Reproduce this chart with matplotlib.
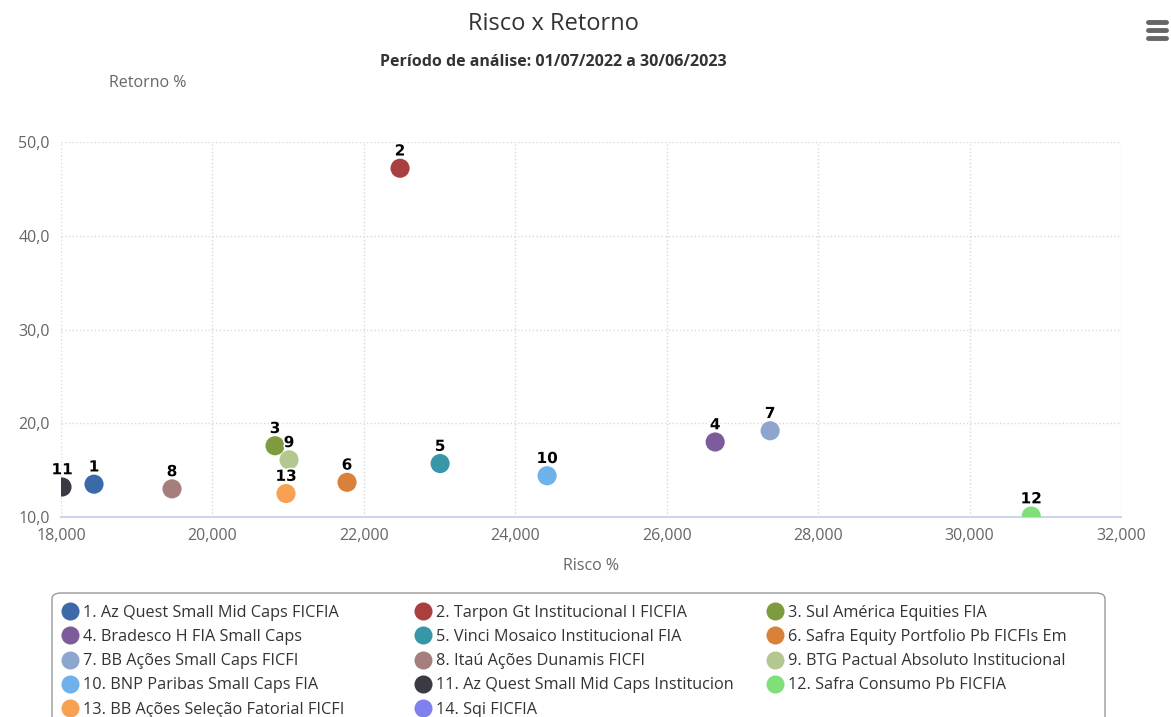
import matplotlib.pyplot as plt
from matplotlib.lines import Line2D
from matplotlib.patches import FancyBboxPatch
import matplotlib.patheffects as pe
from matplotlib.ticker import FuncFormatter, MultipleLocator

# Fund data: risk (x) and return (y)
labels = ['1', '2', '3', '4', '5', '6', '7', '8', '9', '10', '11', '12', '13']
risco = [18436, 22478, 20827, 26640, 23007, 21778, 27366, 19466, 21012, 24420, 18013, 30814, 20972]
retorno = [13.5, 47.2, 17.6, 18.0, 15.7, 13.7, 19.2, 13.0, 16.1, 14.4, 13.2, 10.1, 12.5]

fund_names = [
    '1. Az Quest Small Mid Caps FICFIA',
    '2. Tarpon Gt Institucional I FICFIA',
    '3. Sul América Equities FIA',
    '4. Bradesco H FIA Small Caps',
    '5. Vinci Mosaico Institucional FIA',
    '6. Safra Equity Portfolio Pb FICFIs Em',
    '7. BB Ações Small Caps FICFI',
    '8. Itaú Ações Dunamis FICFI',
    '9. BTG Pactual Absoluto Institucional',
    '10. BNP Paribas Small Caps FIA',
    '11. Az Quest Small Mid Caps Institucion',
    '12. Safra Consumo Pb FICFIA',
    '13. BB Ações Seleção Fatorial FICFI',
    '14. Sqi FICFIA',
]

colors = ['#3c6aa9', '#aa3f3f', '#7f9b40', '#7c5c9b', '#3896a9', '#d9813b', '#8ea6cd',
          '#a67e7e', '#b3c88f', '#6fb1ea', '#3a3a45', '#7fe07a', '#f7a152', '#8080ee']

plt.rcParams['font.family'] = ['Open Sans', 'DejaVu Sans']

fig = plt.figure(figsize=(11.71, 7.17), dpi=100)
ax = fig.add_axes([61 / 1171, 1 - 517 / 717, 1060 / 1171, 375 / 717])

for i in range(len(risco)):
    ax.scatter(risco[i], retorno[i], s=190, color=colors[i], edgecolors='none', zorder=3)
    ax.annotate(labels[i], (risco[i], retorno[i]), xytext=(0, 7), textcoords='offset points',
                ha='center', va='bottom', fontsize=11, fontweight='bold', color='black',
                family=['DejaVu Sans'],
                path_effects=[pe.withStroke(linewidth=2.5, foreground='white')], zorder=4)

ax.set_xlim(18000, 32000)
ax.set_ylim(10, 50)
ax.xaxis.set_major_locator(MultipleLocator(2000))
ax.yaxis.set_major_locator(MultipleLocator(10))
ax.xaxis.set_major_formatter(FuncFormatter(lambda v, p: f'{int(v):,}'))
ax.yaxis.set_major_formatter(FuncFormatter(lambda v, p: f'{v:.1f}'.replace('.', ',')))
ax.grid(True, linestyle=':', color='#d8d8d8', linewidth=1)
ax.set_axisbelow(True)
for s in ['top', 'right', 'left']:
    ax.spines[s].set_visible(False)
ax.spines['bottom'].set_color('#ccd6eb')
ax.spines['bottom'].set_linewidth(1.5)
ax.tick_params(axis='both', length=0, labelsize=11.5, colors='#666666', pad=8)

ax.set_xlabel('Risco %', fontsize=11.5, color='#666666', labelpad=10)
fig.text(148 / 1171, 1 - 83 / 717, 'Retorno %', ha='center', va='center', fontsize=11.5, color='#666666')

fig.text(553 / 1171, 1 - 24 / 717, 'Risco x Retorno', ha='center', va='center', fontsize=17, color='#333333')
fig.text(553 / 1171, 1 - 62 / 717, 'Período de análise: 01/07/2022 a 30/06/2023', ha='center',
         va='center', fontsize=11.5, color='#333333', fontweight='bold')

# hamburger menu icon
for yy in [22, 30, 38]:
    fig.add_artist(Line2D([1148 / 1171, 1166 / 1171], [1 - yy / 717] * 2, color='#666666',
                          linewidth=3.5, solid_capstyle='round'))

# legend frame (runs off the bottom like the original)
fig.add_artist(FancyBboxPatch((52 / 1171, -0.05), 1053 / 1171, 0.05 + 1 - 593 / 717,
                              boxstyle='round,pad=0,rounding_size=0.008',
                              transform=fig.transFigure, facecolor='white',
                              edgecolor='#999999', linewidth=1, zorder=0))

# legend, three columns filled row by row
handles = [Line2D([], [], marker='o', linestyle='none', markersize=13, color=c,
                  markeredgecolor='none') for c in colors]
col_x = [62, 415, 767]
for c in range(3):
    idx = list(range(c, len(fund_names), 3))
    leg = fig.legend([handles[k] for k in idx], [fund_names[k] for k in idx],
                     loc='upper left', bbox_to_anchor=(col_x[c] / 1171, 1 - 605 / 717),
                     fontsize=11.7, frameon=False, handletextpad=0.3, labelspacing=0.5,
                     borderpad=0, handlelength=1.0, borderaxespad=0)
    for t in leg.get_texts():
        t.set_color('#333333')

fig.savefig('out.png', dpi=100)
